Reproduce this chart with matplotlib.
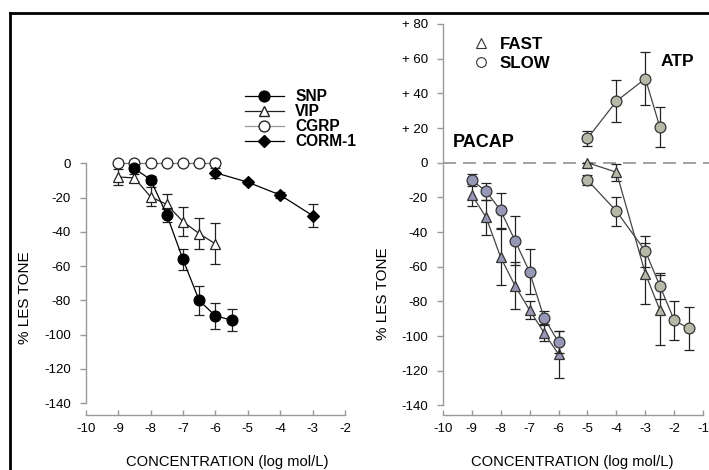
import numpy as np
import matplotlib.pyplot as plt
from matplotlib.lines import Line2D

plt.rcParams['font.family'] = ['Liberation Sans', 'DejaVu Sans']

# left panel data (log mol/L, % LES tone, SEM)
snp_x = [-8.5, -8, -7.5, -7, -6.5, -6, -5.5]
snp_y = [-3, -9.5, -30, -56, -80, -89, -91.5]
snp_e = [1.5, 2, 4, 6, 8.5, 7.5, 6.5]

vip_x = [-9, -8.5, -8, -7.5, -7, -6.5, -6]
vip_y = [-8, -8.5, -19.5, -24, -34, -41, -47]
vip_e = [4.5, 2.5, 5.5, 6, 8.5, 9, 12]

cgrp_x = [-9, -8.5, -8, -7.5, -7, -6.5, -6]
cgrp_y = [0, 0, 0, 0, 0, 0, 0]

corm_x = [-6, -5, -4, -3]
corm_y = [-5.5, -11, -18.5, -30.5]
corm_e = [3, 1, 1.5, 6.5]

# right panel data
pacap_slow_x = [-9, -8.5, -8, -7.5, -7, -6.5, -6]
pacap_slow_y = [-10, -16.5, -27.5, -45, -63, -89.5, -103.5]
pacap_slow_e = [3.5, 5, 10, 14, 13, 4, 6.5]

pacap_fast_x = [-9, -8.5, -8, -7.5, -7, -6.5, -6]
pacap_fast_y = [-18.5, -31.5, -54.5, -71, -85, -98, -110.5]
pacap_fast_e = [6.5, 10, 16, 13.5, 5, 5, 13.5]

atp_up_x = [-5, -4, -3, -2.5]
atp_up_y = [14, 35.5, 48.5, 20.5]
atp_up_e = [4.5, 12, 15.5, 11.5]

atp_slow_x = [-5, -4, -3, -2.5, -2, -1.5]
atp_slow_y = [-10, -28, -51, -71, -91, -95.5]
atp_slow_e = [3, 8.5, 9, 7.5, 11.5, 12.5]

atp_fast_x = [-5, -4, -3, -2.5]
atp_fast_y = [0, -5.5, -64, -85]
atp_fast_e = [0, 5, 17.5, 20]

left_yticks = [0, -20, -40, -60, -80, -100, -120, -140]
left_ylabels = ['0', '-20', '-40', '-60', '-80', '-100', '-120', '-140']
right_yticks = [80, 60, 40, 20, 0, -20, -40, -60, -80, -100, -120, -140]
right_ylabels = ['+ 80', '+ 60', '+ 40', '+ 20', '0', '-20', '-40', '-60',
                 '-80', '-100', '-120', '-140']

W, H = 709, 470
fig = plt.figure(figsize=(W / 100, H / 100), dpi=100)

bot = (H - 415) / H
top = (H - 20) / H
axL = fig.add_axes([85.7 / W, bot, (345 - 85.7) / W, top - bot])
axR = fig.add_axes([442.7 / W, bot, (703.3 - 442.7) / W, top - bot])

spine_c = '#999999'
for ax in (axL, axR):
    for s in ('top', 'right'):
        ax.spines[s].set_visible(False)
    ax.spines['left'].set_color(spine_c)
    ax.spines['bottom'].set_color(spine_c)
    ax.spines['left'].set_linewidth(1)
    ax.spines['bottom'].set_linewidth(1)
    ax.tick_params(axis='y', direction='out', length=4.5, width=1,
                   color=spine_c, pad=6, labelsize=9.5)
    ax.tick_params(axis='x', direction='in', length=3.5, width=1,
                   color=spine_c, pad=6, labelsize=9.5)

eb = dict(capsize=3.5, elinewidth=0.9, capthick=0.9, ecolor='#222222',
          lw=0.9, ms=7.8, mew=0.9, clip_on=False)

# left panel
axL.errorbar(cgrp_x, cgrp_y, color='#777777', marker='o', mfc='white',
             mec='#222222', label='CGRP', zorder=3, **{k: v for k, v in eb.items() if k not in ('capsize',)})
axL.errorbar(vip_x, vip_y, yerr=vip_e, color='#222222', marker='^', mfc='white',
             mec='#222222', label='VIP', zorder=4, **eb)
axL.errorbar(snp_x, snp_y, yerr=snp_e, color='black', marker='o', mfc='black',
             mec='black', label='SNP', zorder=5, **eb)
axL.errorbar(corm_x, corm_y, yerr=corm_e, color='black', marker='D', mfc='black',
             mec='black', label='CORM-1', zorder=5, **dict(eb, ms=6.5))

axL.set_xlim(-10, -2)
axL.set_ylim(-(415 - 163.3) / 1.714, (163.3 - 20) / 1.714)
axL.spines['left'].set_bounds(-140, 0)
axL.spines['bottom'].set_bounds(-10, -2)
axL.set_xticks(range(-10, -1))
axL.set_xticklabels([str(v) for v in range(-10, -1)])
axL.set_yticks(left_yticks)
axL.set_yticklabels(left_ylabels)

hL = [Line2D([], [], color='black', lw=0.9, marker='o', mfc='black', mec='black', ms=7.8),
      Line2D([], [], color='#222222', lw=0.9, marker='^', mfc='white', mec='#222222', ms=7.8),
      Line2D([], [], color='#999999', lw=0.9, marker='o', mfc='white', mec='#222222', ms=7.8),
      Line2D([], [], color='black', lw=0.9, marker='D', mfc='black', mec='black', ms=6.5)]
legL = axL.legend(hL, ['SNP', 'VIP', 'CGRP', 'CORM-1'], loc='upper left',
                  bbox_to_anchor=(245 / W, (H - 89) / H), bbox_transform=fig.transFigure,
                  frameon=False, borderpad=0, borderaxespad=0, labelspacing=0.0,
                  handlelength=2.5, handletextpad=0.72,
                  prop={'weight': 'bold', 'size': 11.2})

# right panel
lw_d = 1.1
axR.axhline(0, xmin=0, xmax=1.025, color='#888888', lw=lw_d, clip_on=False,
            linestyle=(0, (9.4 / lw_d, 5 / lw_d)), zorder=1)

pac_c = '#9797b6'
atp_c = '#b6b9a8'
line_c = '#444444'
axR.errorbar(pacap_fast_x, pacap_fast_y, yerr=pacap_fast_e, color=line_c, marker='^',
             mfc=pac_c, mec='#333333', zorder=3, **eb)
axR.errorbar(pacap_slow_x, pacap_slow_y, yerr=pacap_slow_e, color=line_c, marker='o',
             mfc=pac_c, mec='#333333', zorder=4, **eb)
axR.errorbar(atp_fast_x, atp_fast_y, yerr=atp_fast_e, color=line_c, marker='^',
             mfc=atp_c, mec='#333333', zorder=3, **eb)
axR.errorbar(atp_slow_x, atp_slow_y, yerr=atp_slow_e, color=line_c, marker='o',
             mfc=atp_c, mec='#333333', zorder=4, **eb)
axR.errorbar(atp_up_x, atp_up_y, yerr=atp_up_e, color=line_c, marker='o',
             mfc=atp_c, mec='#333333', zorder=4, **eb)

axR.set_xlim(-10, -1)
axR.set_ylim(-(415 - 162.7) / 1.734, (162.7 - 20) / 1.734)
axR.spines['left'].set_bounds(-140, 80)
axR.spines['bottom'].set_bounds(-10, -1)
axR.set_xticks(range(-10, 0))
axR.set_xticklabels([str(v) for v in range(-10, 0)])
axR.set_yticks(right_yticks)
axR.set_yticklabels(right_ylabels)

hR = [Line2D([], [], ls='none', marker='^', mfc='white', mec='#333333', ms=7, mew=0.8),
      Line2D([], [], ls='none', marker='o', mfc='white', mec='#333333', ms=7, mew=0.8)]
axR.legend(hR, ['FAST', 'SLOW'], loc='upper left',
           bbox_to_anchor=(471 / W, (H - 37) / H), bbox_transform=fig.transFigure,
           frameon=False, borderpad=0, borderaxespad=0, labelspacing=0.22,
           handlelength=1.15, handletextpad=0.55,
           prop={'weight': 'bold', 'size': 12.2})

axR.text(-9.64, 11.4, 'PACAP', fontsize=13, fontweight='bold', ha='left', va='center')
axR.text(-2.46, 58.1, 'ATP', fontsize=12.5, fontweight='bold', ha='left', va='center')

# axis labels
fig.text(227 / W, (H - 462) / H, 'CONCENTRATION (log mol/L)', fontsize=10.6,
         ha='center', va='center')
fig.text(572 / W, (H - 462) / H, 'CONCENTRATION (log mol/L)', fontsize=10.6,
         ha='center', va='center')
fig.text(25 / W, (H - 298) / H, '% LES TONE', fontsize=11, rotation=90,
         ha='center', va='center')
fig.text(383 / W, (H - 294) / H, '% LES TONE', fontsize=11, rotation=90,
         ha='center', va='center')

# frame border (top and left visible)
fig.add_artist(Line2D([10 / W, 1.0], [(H - 13) / H] * 2, color='black', lw=2,
                      transform=fig.transFigure))
fig.add_artist(Line2D([10 / W] * 2, [(H - 13) / H, 0], color='black', lw=2,
                      transform=fig.transFigure))

fig.savefig('out.png', dpi=100)
